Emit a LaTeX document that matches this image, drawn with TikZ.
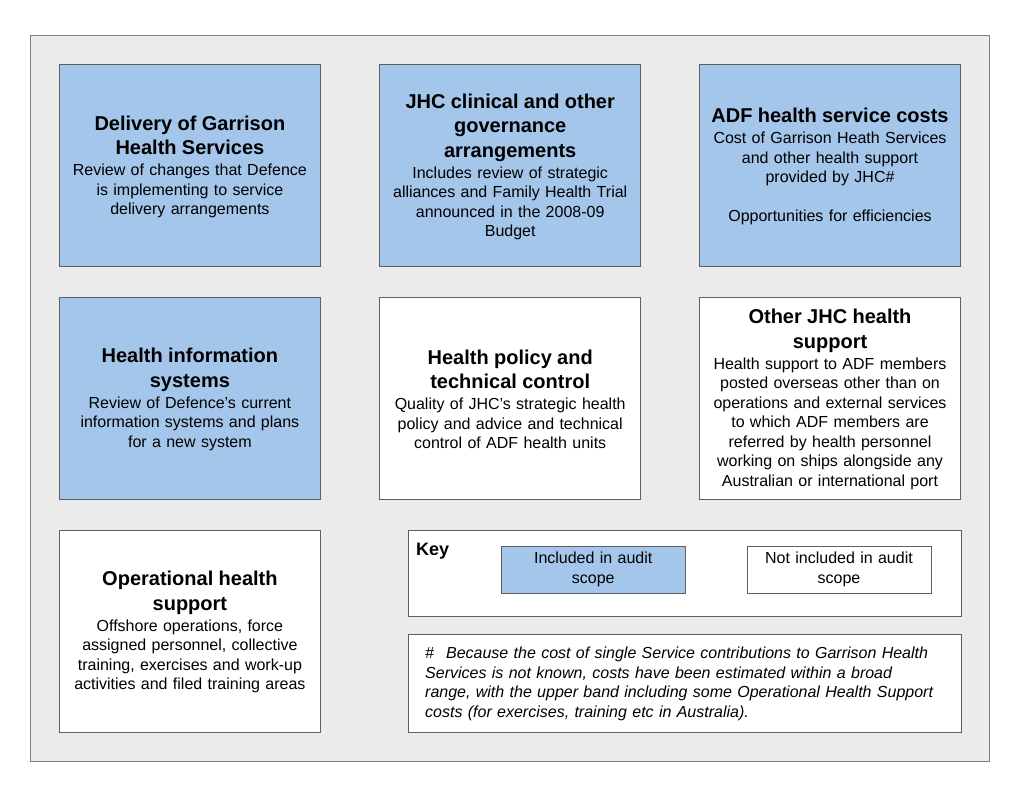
\documentclass[tikz,border=0pt]{standalone}
\usepackage{fontspec}
\setmainfont{Liberation Sans}
\usetikzlibrary{positioning}

\definecolor{scopeblue}{RGB}{164,198,234}
\definecolor{framegray}{RGB}{235,235,235}
\definecolor{boxline}{RGB}{95,95,95}

\newcommand{\bodyfont}{\fontsize{16}{19.5}\selectfont}
\newcommand{\headfont}{\fontsize{20}{24.5}\selectfont\bfseries}
% bold heading lines of a panel, then the plain text follows
\newcommand{\boxhead}[1]{{\headfont\begin{tabular}[b]{@{}c@{}}#1\end{tabular}}\\[1.5pt]}

\tikzset{
  panel/.style={draw=boxline, line width=0.8pt, minimum width=261pt,
    minimum height=202pt, text width=252pt, align=center, inner sep=3pt,
    font=\bodyfont},
  inscope/.style={panel, fill=scopeblue},
  outscope/.style={panel, fill=white},
  keyswatch/.style={draw=boxline, line width=0.8pt, minimum width=184pt,
    minimum height=47pt, text width=176pt, align=center, inner sep=2pt,
    font=\bodyfont},
}

\begin{document}
\begin{tikzpicture}[x=1pt, y=-1pt]

    \useasboundingbox (0,0) rectangle (1019,795);
    \fill[white] (0,0) rectangle (1019,795);
    \draw[fill=framegray, draw=gray, line width=0.8pt] (30,35) rectangle (989,761);

    % Define nodes
    \node[inscope, anchor=north west] (garrison) at (59,64)
      {\boxhead{Delivery of Garrison\\Health Services}
       Review of changes that Defence\\is implementing to service\\delivery arrangements};
    \node[inscope, right=58.5pt of garrison] (governance)
      {\boxhead{JHC clinical and other\\governance\\arrangements}
       Includes review of strategic\\alliances and Family Health Trial\\announced in the 2008-09\\Budget};
    \node[inscope, right=58pt of governance] (costs)
      {\boxhead{ADF health service costs}
       Cost of Garrison Heath Services\\and other health support\\provided by JHC\#\\[19.5pt]
       Opportunities for efficiencies};

    \node[inscope, below=30pt of garrison] (infosys)
      {\boxhead{Health information\\systems}
       Review of Defence’s current\\information systems and plans\\for a new system};
    \node[outscope, below=30pt of governance] (policy)
      {\boxhead{Health policy and\\technical control}
       Quality of JHC’s strategic health\\policy and advice and technical\\control of ADF health units};
    \node[outscope, below=30pt of costs] (otherjhc)
      {\boxhead{Other JHC health\\support}
       Health support to ADF members\\posted overseas other than on\\operations and external services\\
       to which ADF members are\\referred by health personnel\\working on ships alongside any\\
       Australian or international port};

    \node[outscope, below=30pt of infosys] (operational)
      {\boxhead{Operational health\\support}
       Offshore operations, force\\assigned personnel, collective\\training, exercises and work-up\\
       activities and filed training areas};

    % Key and note
    \node[draw=boxline, line width=0.8pt, fill=white, minimum width=553pt,
      minimum height=86pt, right=87pt of operational.north east,
      anchor=north west] (key) {};
    \node[anchor=base west, inner sep=0pt, font=\fontsize{18}{22}\selectfont\bfseries]
      (keylabel) at ([xshift=8pt, yshift=-26pt]key.north west) {Key};
    \node[keyswatch, fill=scopeblue, anchor=north west] (included)
      at ([xshift=93pt, yshift=-16pt]key.north west) {Included in audit\\scope};
    \node[keyswatch, fill=white, right=61pt of included] (excluded)
      {Not included in audit\\scope};

    \node[draw=boxline, line width=0.8pt, fill=white, minimum width=553pt,
      minimum height=98pt, text width=519pt, align=left, inner sep=0pt,
      font=\bodyfont\itshape, below=18pt of key] (note)
      {\#\hspace{12pt}Because the cost of single Service contributions to Garrison Health\\
       Services is not known, costs have been estimated within a broad\\
       range, with the upper band including some Operational Health Support\\
       costs (for exercises, training etc in Australia).};

\end{tikzpicture}
\end{document}
